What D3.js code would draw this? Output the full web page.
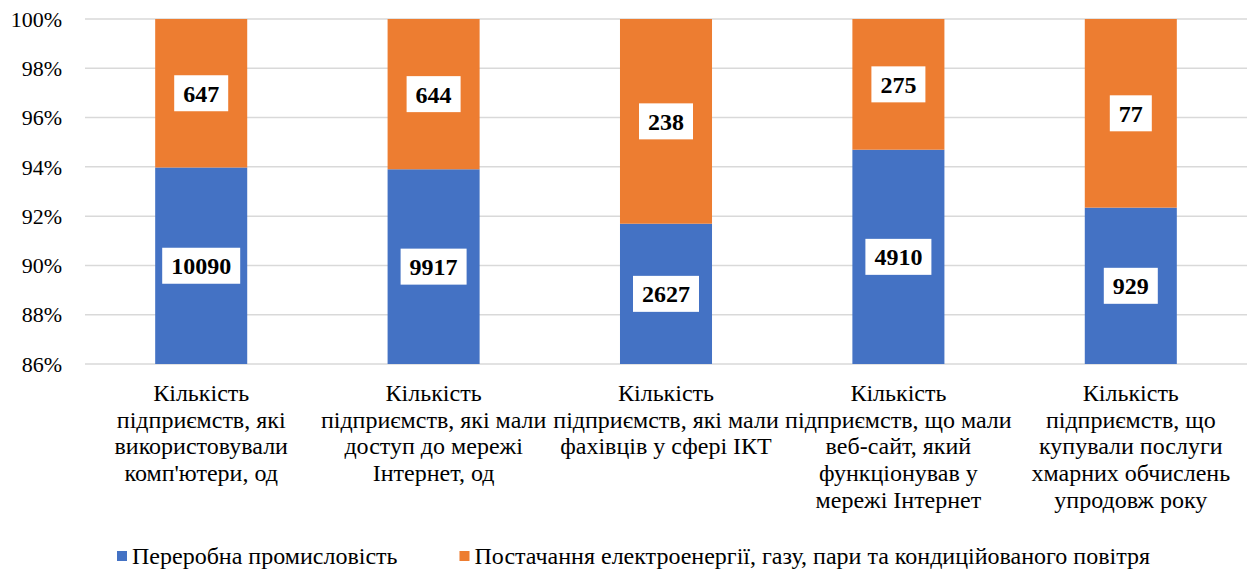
<!DOCTYPE html>
<html>
<head>
<meta charset="utf-8">
<script src="https://cdn.jsdelivr.net/npm/d3@7"></script>
<style>
  body { margin: 0; background: #fff; }
  svg { display: block; font-family: "Liberation Serif", "Times New Roman", serif; }
</style>
</head>
<body>
<svg id="chart" width="1248" height="569"></svg>
<script>
// categories (x axis), already split into lines as in the source chart
var categories = [
  ["Кількість", "підприємств, які", "використовували", "комп'ютери, од"],
  ["Кількість", "підприємств, які мали", "доступ до мережі", "Інтернет, од"],
  ["Кількість", "підприємств, які мали", "фахівців у сфері ІКТ"],
  ["Кількість", "підприємств, що мали", "веб-сайт, який", "функціонував у", "мережі Інтернет"],
  ["Кількість", "підприємств, що", "купували послуги", "хмарних обчислень", "упродовж року"]
];
var seriesNames = ["Переробна промисловість", "Постачання електроенергії, газу, пари та кондиційованого повітря"];
var manufacturing = [10090, 9917, 2627, 4910, 929];
var energy = [647, 644, 238, 275, 77];
var yTicks = [0.86, 0.88, 0.90, 0.92, 0.94, 0.96, 0.98, 1.00];
var colors = ["#4472c4", "#ed7d31"];

var svg = d3.select("#chart");
var plotLeft = 85, plotRight = 1247, plotTop = 19, plotBottom = 364;

var x = d3.scaleBand().domain(d3.range(categories.length)).range([plotLeft, plotRight]);
var y = d3.scaleLinear().domain([0.86, 1]).range([plotBottom, plotTop]);
var barW = x.bandwidth() * 0.396;

// gridlines
svg.append("g").selectAll("line").data(yTicks).join("line")
  .attr("x1", plotLeft).attr("x2", plotRight)
  .attr("y1", function(d) { return y(d); }).attr("y2", function(d) { return y(d); })
  .attr("stroke", "#d9d9d9").attr("stroke-width", 1.5);

// y tick labels
svg.append("g").selectAll("text").data(yTicks).join("text")
  .attr("x", 62).attr("y", function(d) { return y(d); })
  .attr("dy", "0.35em")
  .attr("text-anchor", "end")
  .style("font-size", "22px")
  .text(function(d) { return Math.round(d * 100) + "%"; });

// stacked shares
var rows = manufacturing.map(function(m, i) {
  var total = m + energy[i];
  return [
    { i: i, s: 0, v: m, y0: 0, y1: m / total },
    { i: i, s: 1, v: energy[i], y0: m / total, y1: 1 }
  ];
});
var segs = d3.merge(rows);

svg.append("g").selectAll("rect").data(segs).join("rect")
  .attr("x", function(d) { return x(d.i) + (x.bandwidth() - barW) / 2; })
  .attr("width", barW)
  .attr("y", function(d) { return y(d.y1); })
  .attr("height", function(d) { return y(Math.max(d.y0, 0.86)) - y(d.y1); })
  .attr("fill", function(d) { return colors[d.s]; });

// data labels in white boxes
var labels = svg.append("g").selectAll("g").data(segs).join("g")
  .attr("transform", function(d) {
    var cy = (y(Math.max(d.y0, 0.86)) + y(d.y1)) / 2;
    return "translate(" + (x(d.i) + x.bandwidth() / 2) + "," + cy + ")";
  });
labels.append("rect").attr("fill", "#fff");
labels.append("text")
  .attr("text-anchor", "middle")
  .attr("dy", "0.35em")
  .style("font-size", "24px")
  .style("font-weight", "bold")
  .text(function(d) { return d.v; });
labels.each(function() {
  var g = d3.select(this);
  var w = g.select("text").node().getComputedTextLength() + 18;
  g.select("rect").attr("x", -w / 2).attr("width", w).attr("y", -18).attr("height", 36);
});

// category labels
var cat = svg.append("g").selectAll("text").data(categories).join("text")
  .attr("text-anchor", "middle")
  .attr("transform", function(d, i) { return "translate(" + (x(i) + x.bandwidth() / 2) + ",401)"; })
  .style("font-size", "24px");
cat.selectAll("tspan").data(function(d) { return d; }).join("tspan")
  .attr("x", 0)
  .attr("y", function(d, j) { return j * 26.7; })
  .text(function(d) { return d; });

// legend
var legend = svg.append("g");
var items = legend.selectAll("g").data(seriesNames).join("g");
items.append("rect").attr("width", 10).attr("height", 10).attr("y", -13)
  .attr("fill", function(d, i) { return colors[i]; });
items.append("text").attr("x", 15).style("font-size", "24px").text(function(d) { return d; });
var lx = 0;
items.each(function() {
  var g = d3.select(this);
  g.attr("transform", "translate(" + lx + ",0)");
  lx += 15 + g.select("text").node().getComputedTextLength() + 62;
});
legend.attr("transform", "translate(117,564)");
</script>
</body>
</html>
